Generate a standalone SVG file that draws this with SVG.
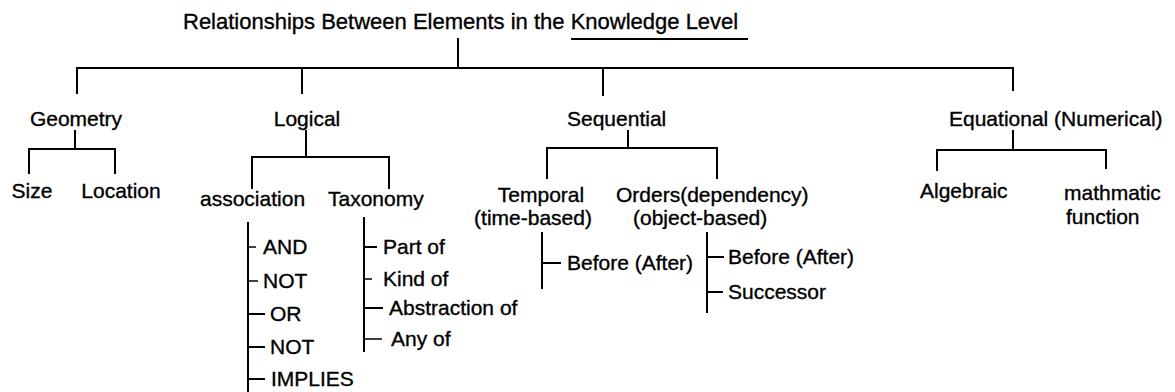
<svg xmlns="http://www.w3.org/2000/svg" width="1175" height="392" viewBox="0 0 1175 392">
  <style>
    text { font-family: "Liberation Sans", Arial, Helvetica, sans-serif; font-size: 21px; fill: #000; stroke: #000; stroke-width: 0.35; }
    .title { font-size: 22px; }
    .mid { text-anchor: middle; }
    .ln { stroke: #000; stroke-width: 2; fill: none; stroke-linecap: square; }
    .thin { stroke: #000; stroke-width: 1.5; fill: none; }
  </style>
  <rect width="1175" height="392" fill="#fff"/>

  <g id="title">
    <text class="title" x="183" y="29">Relationships Between Elements in the Knowledge Level</text>
    <line class="ln" x1="572" y1="39" x2="747" y2="39"/>
  </g>

  <g id="connectors">
    <!-- root to first level -->
    <line class="ln" x1="458" y1="39" x2="458" y2="68"/>
    <line class="ln" x1="77" y1="68" x2="1013" y2="68"/>
    <line class="ln" x1="77" y1="68" x2="77" y2="93"/>
    <line class="ln" x1="302" y1="68" x2="302" y2="93"/>
    <line class="ln" x1="603" y1="68" x2="603" y2="95"/>
    <line class="ln" x1="1013" y1="68" x2="1013" y2="90"/>

    <!-- Geometry -->
    <line class="ln" x1="75" y1="131" x2="75" y2="149"/>
    <line class="ln" x1="29" y1="149" x2="115" y2="149"/>
    <line class="ln" x1="29" y1="149" x2="29" y2="173"/>
    <line class="ln" x1="115" y1="149" x2="115" y2="173"/>

    <!-- Logical -->
    <line class="ln" x1="306" y1="131" x2="306" y2="157"/>
    <line class="ln" x1="252" y1="157" x2="389" y2="157"/>
    <line class="ln" x1="252" y1="157" x2="252" y2="188"/>
    <line class="ln" x1="389" y1="157" x2="389" y2="188"/>

    <!-- association list -->
    <line class="ln" x1="248" y1="223" x2="248" y2="392"/>
    <line class="thin" x1="248" y1="247" x2="256" y2="247"/>
    <line class="thin" x1="248" y1="281" x2="258" y2="281"/>
    <line class="ln" x1="248" y1="314" x2="264" y2="314"/>
    <line class="ln" x1="248" y1="347" x2="264" y2="347"/>
    <line class="ln" x1="248" y1="379" x2="264" y2="379"/>

    <!-- Taxonomy list -->
    <line class="ln" x1="364" y1="218" x2="364" y2="351"/>
    <line class="ln" x1="364" y1="247" x2="376" y2="247"/>
    <line class="thin" x1="364" y1="279" x2="372" y2="279"/>
    <line class="ln" x1="364" y1="308" x2="382" y2="308"/>
    <line class="thin" x1="364" y1="339" x2="382" y2="339"/>

    <!-- Sequential -->
    <line class="ln" x1="628" y1="131" x2="628" y2="148"/>
    <line class="ln" x1="547" y1="148" x2="717" y2="148"/>
    <line class="ln" x1="547" y1="148" x2="547" y2="178"/>
    <line class="ln" x1="717" y1="148" x2="717" y2="178"/>
    <line class="ln" x1="542" y1="233" x2="542" y2="288"/>
    <line class="ln" x1="542" y1="263" x2="560" y2="263"/>
    <line class="ln" x1="707" y1="233" x2="707" y2="312"/>
    <line class="ln" x1="707" y1="257" x2="723" y2="257"/>
    <line class="ln" x1="707" y1="292" x2="722" y2="292"/>

    <!-- Equational -->
    <line class="ln" x1="1013" y1="131" x2="1013" y2="150"/>
    <line class="ln" x1="937" y1="150" x2="1106" y2="150"/>
    <line class="ln" x1="937" y1="150" x2="937" y2="170"/>
    <line class="ln" x1="1106" y1="150" x2="1106" y2="168"/>
  </g>

  <g id="geometry">
    <text class="mid" x="76" y="126">Geometry</text>
    <text class="mid" x="32" y="198">Size</text>
    <text class="mid" x="121" y="198">Location</text>
  </g>

  <g id="logical">
    <text class="mid" x="307" y="126">Logical</text>
    <text x="200" y="206">association</text>
    <text x="328" y="206">Taxonomy</text>
  </g>

  <g id="association-items">
    <text x="263" y="254">AND</text>
    <text x="263" y="288">NOT</text>
    <text x="270" y="321">OR</text>
    <text x="270" y="354">NOT</text>
    <text x="271" y="386">IMPLIES</text>
  </g>

  <g id="taxonomy-items">
    <text x="383" y="254">Part of</text>
    <text x="383" y="286">Kind of</text>
    <text x="389" y="315">Abstraction of</text>
    <text x="391" y="346">Any of</text>
  </g>

  <g id="sequential">
    <text x="567" y="126">Sequential</text>
    <text class="mid" x="541" y="202">Temporal</text>
    <text class="mid" x="533" y="225">(time-based)</text>
    <text x="567" y="270">Before (After)</text>
    <text x="616" y="202">Orders(dependency)</text>
    <text x="633" y="225">(object-based)</text>
    <text x="728" y="264">Before (After)</text>
    <text x="728" y="299">Successor</text>
  </g>

  <g id="equational">
    <text x="949" y="126">Equational (Numerical)</text>
    <text x="920" y="198">Algebraic</text>
    <text x="1064" y="200">mathmatic</text>
    <text x="1066" y="224">function</text>
  </g>
</svg>
